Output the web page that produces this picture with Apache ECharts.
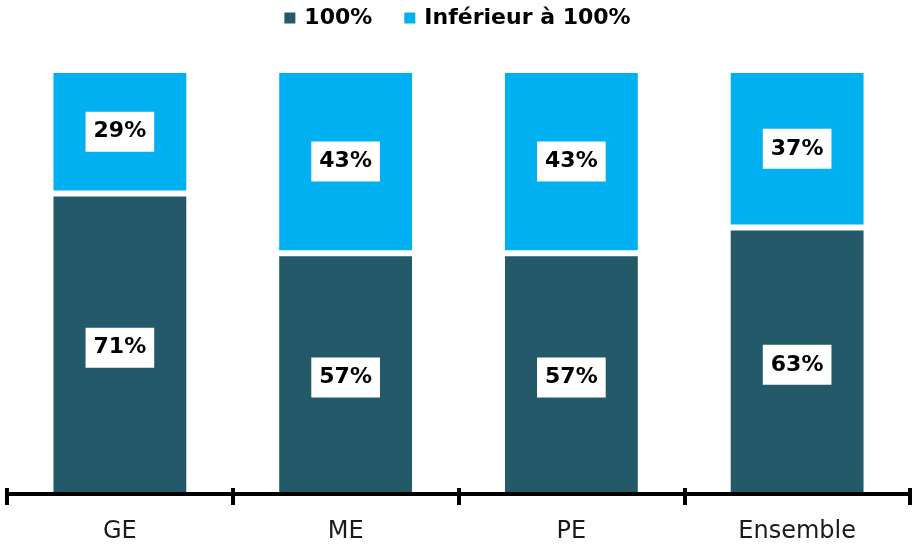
<!DOCTYPE html>
<html>
<head>
<meta charset="utf-8">
<script src="https://cdn.jsdelivr.net/npm/echarts@6/dist/echarts.min.js"></script>
<style>
html, body { margin: 0; padding: 0; background: #fff; }
#chart { width: 913px; height: 547px; }
</style>
</head>
<body>
<div id="chart"></div>
<script>
var categories = ['GE', 'ME', 'PE', 'Ensemble'];
var full = [71, 57, 57, 63];
var below = [29, 43, 43, 37];

var font = '"DejaVu Sans", sans-serif';

var myChart = echarts.init(document.getElementById('chart'));

function makeLabel(dy) {
    return {
        show: true,
        position: 'inside',
        offset: [0, dy],
        formatter: '{c}%',
        color: '#000',
        fontFamily: font,
        fontWeight: 'bold',
        fontSize: 22,
        backgroundColor: '#fff',
        padding: [10, 8, 8, 8]
    };
}

var option = {
    animation: false,
    legend: {
        top: 2,
        left: 'center',
        itemWidth: 13,
        itemHeight: 13,
        itemGap: 30,
        icon: 'rect',
        textStyle: { fontFamily: font, fontWeight: 'bold', fontSize: 22, color: '#000', padding: [0, 0, 0, 3] },
        data: ['100%', 'Inférieur à 100%']
    },
    grid: { left: 7, right: 3, top: 70, bottom: 51 },
    xAxis: [{
        type: 'category',
        data: categories,
        z: 10,
        offset: -2,
        axisLine: { lineStyle: { color: '#000', width: 4 } },
        axisTick: { show: true, length: 11, lineStyle: { color: '#000', width: 4 } },
        axisLabel: { color: '#1a1a1a', fontFamily: font, fontSize: 24, margin: 26 }
    }, {
        type: 'category',
        data: categories,
        position: 'bottom',
        z: 10,
        offset: -2,
        axisLine: { show: false },
        axisTick: { show: true, inside: true, length: 6, lineStyle: { color: '#000', width: 4 } },
        axisLabel: { show: false }
    }],
    yAxis: {
        type: 'value',
        min: 0,
        max: 100,
        show: false
    },
    series: [{
        name: '100%',
        type: 'bar',
        stack: 'total',
        barWidth: '61.5%',
        data: full,
        itemStyle: { color: '#235968', borderColor: '#fff', borderWidth: 3 },
        label: makeLabel(3)
    }, {
        name: 'Inférieur à 100%',
        type: 'bar',
        stack: 'total',
        data: below,
        itemStyle: { color: '#00B0F0', borderColor: '#fff', borderWidth: 3 },
        label: makeLabel(0)
    }]
};

myChart.setOption(option);
</script>
</body>
</html>
